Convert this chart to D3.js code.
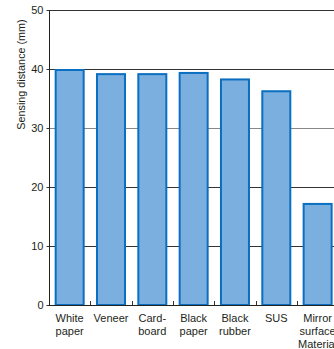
<!DOCTYPE html>
<html><head><meta charset="utf-8">
<script src="https://cdn.jsdelivr.net/npm/d3@7"></script>
<style>
html,body{margin:0;padding:0;background:#fff;overflow:hidden;}
svg{display:block;font-family:"Liberation Sans",Arial,Helvetica,sans-serif;}
</style></head>
<body>
<script>
const categories = [["White","paper"],["Veneer"],["Card-","board"],["Black","paper"],["Black","rubber"],["SUS"],["Mirror","surface","Material"]];
const values = [40.0, 39.3, 39.3, 39.5, 38.4, 36.4, 17.3];
const yTicks = [0, 10, 20, 30, 40, 50];
const yLabel = "Sensing distance (mm)";

(function(){
const W = 334, H = 349;
const mLeft = 49, mRight = 338.3, mTop = 10, mBottom = 305;
const svg = d3.select("body").append("svg").attr("width", W).attr("height", H);

const x = d3.scaleBand().domain(d3.range(categories.length)).range([mLeft, mRight]).paddingInner(0).paddingOuter(0);
const y = d3.scaleLinear().domain([0, 50]).range([mBottom, mTop]);

// gridlines
svg.append("g").selectAll("line").data(yTicks.filter(d => d > 0)).join("line")
  .attr("x1", mLeft).attr("x2", W)
  .attr("y1", d => Math.round(y(d)) + 0.5).attr("y2", d => Math.round(y(d)) + 0.5)
  .attr("stroke", d => d === 30 ? "#888" : "#333").attr("stroke-width", 1);

// bars
const bw = 28;
svg.append("g").selectAll("rect").data(values).join("rect")
  .attr("x", (d, i) => x(i) + x.bandwidth() / 2 - bw / 2)
  .attr("width", bw)
  .attr("y", d => y(d) + 1)
  .attr("height", d => mBottom - y(d) - 1)
  .attr("fill", "#7aafdf")
  .attr("stroke", "#0a6fc0")
  .attr("stroke-width", 2);

// y axis
const yAxis = d3.axisLeft(y).tickValues(yTicks).tickSize(3).tickPadding(3);
const gy = svg.append("g").attr("transform", `translate(${mLeft + 0.5},0)`).call(yAxis);
gy.select(".domain").attr("stroke", "#222").attr("d", `M0,${mBottom}V${mTop}`);
gy.selectAll(".tick line").attr("stroke", "#333");
gy.selectAll(".tick text").attr("font-size", 11).attr("fill", "#231f20")
  .attr("font-family", "'Liberation Sans',Arial,sans-serif");

// x axis baseline and upward ticks
svg.append("line").attr("x1", mLeft).attr("x2", W).attr("y1", mBottom + 0.5).attr("y2", mBottom + 0.5)
  .attr("stroke", "#222").attr("stroke-width", 1);
svg.append("g").selectAll("line").data(d3.range(1, categories.length)).join("line")
  .attr("x1", i => Math.round(x(i)) + 0.5).attr("x2", i => Math.round(x(i)) + 0.5)
  .attr("y1", mBottom - 4).attr("y2", mBottom)
  .attr("stroke", "#333");

// x labels
const lab = svg.append("g").attr("font-size", 11).attr("fill", "#231f20").attr("text-anchor", "middle");
categories.forEach((lines, i) => {
  const cx = x(i) + x.bandwidth() / 2;
  const t = lab.append("text").attr("x", cx).attr("y", 322);
  lines.forEach((s, j) => t.append("tspan").attr("x", cx).attr("dy", j === 0 ? 0 : 13).text(s));
});

// y label
svg.append("text").attr("transform", `translate(25,${(mTop + 137) / 2 + 1}) rotate(-90)`)
  .attr("text-anchor", "middle").attr("font-size", 10.8).attr("fill", "#231f20").text(yLabel);
})();
</script>
</body></html>
